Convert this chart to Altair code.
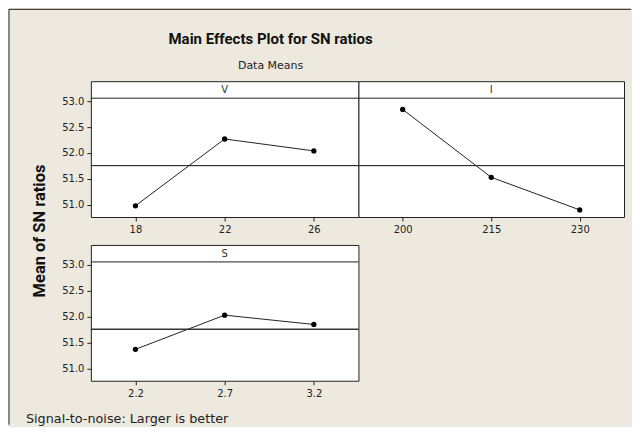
import altair as alt
import pandas as pd

# ---- data ----
v_levels = ["18", "22", "26"]
v_sn = [50.98, 52.27, 52.04]

i_levels = ["200", "215", "230"]
i_sn = [52.84, 51.53, 50.90]

s_levels = ["2.2", "2.7", "3.2"]
s_sn = [51.37, 52.03, 51.85]

y_ticks = [51.0, 51.5, 52.0, 52.5, 53.0]

title_text = "Main Effects Plot for SN ratios"
subtitle_text = "Data Means"
y_title_text = "Mean of SN ratios"
footer_text = "Signal-to-noise: Larger is better"

all_sn = v_sn + i_sn + s_sn
overall_mean = sum(all_sn) / len(all_sn)

# ---- styling ----
Y_DOMAIN = [50.763, 53.386]
FONT = "DejaVu Sans"
TITLE_FONT = "Roboto"
BG = "#EDE9DF"
INK = "#222222"
H = 136
STRIP = 17
TICK_FS = 10


def one(val):
    return pd.DataFrame({"t": [val]})


def panel(name, levels, values, width, show_y, extras=()):
    df = pd.DataFrame({"level": levels, "sn": values, "m": [overall_mean] * len(levels)})
    x = alt.X(
        "level:O",
        sort=levels,
        scale=alt.Scale(type="point", padding=0.5),
        axis=alt.Axis(
            title=None, labelAngle=0, domain=False, ticks=True, tickSize=4,
            tickColor=INK, labelColor=INK, labelFontSize=TICK_FS, labelFont=FONT,
            labelPadding=4, grid=False,
        ),
    )
    if show_y:
        yaxis = alt.Axis(
            title=None, values=y_ticks, format=".1f", domain=False, tickSize=4,
            tickColor=INK, labelColor=INK, labelFontSize=TICK_FS, labelFont=FONT,
            labelPadding=3, grid=False,
        )
    else:
        yaxis = None
    yscale = alt.Scale(domain=Y_DOMAIN, nice=False, zero=False)
    y = alt.Y("sn:Q", scale=yscale, axis=yaxis)
    ym = alt.Y("m:Q", scale=yscale, axis=yaxis)

    base = alt.Chart(df)
    line = base.mark_line(color=INK, strokeWidth=1).encode(x=x, y=y)
    pts = base.mark_circle(color="black", size=28, opacity=1).encode(x=x, y=y)
    mean_rule = base.mark_rule(color="#333333", strokeWidth=1).encode(y=ym)
    strip_rule = alt.Chart(one(name)).mark_rule(color=INK, strokeWidth=1).encode(
        x=alt.value(0), x2=alt.value(width), y=alt.value(STRIP)
    )
    strip_text = alt.Chart(one(name)).mark_text(
        font=FONT, fontSize=10, color="#333333", baseline="middle", align="center"
    ).encode(x=alt.value(width / 2), y=alt.value(STRIP / 2 + 0.5), text="t:N")
    layers = [line, pts, mean_rule, strip_rule, strip_text] + list(extras)
    return alt.layer(*layers).properties(width=width, height=H)


# decorations attached to the first panel (pixel offsets relative to it)
title_mark = alt.Chart(one(title_text)).mark_text(
    font=TITLE_FONT, fontSize=15, fontWeight="bold", color="#111111", baseline="middle", align="center"
).encode(x=alt.value(180), y=alt.value(-42), text="t:N")
subtitle_mark = alt.Chart(one(subtitle_text)).mark_text(
    font=FONT, fontSize=11, color="#222222", baseline="middle", align="center"
).encode(x=alt.value(180), y=alt.value(-15), text="t:N")
ytitle_mark = alt.Chart(one(y_title_text)).mark_text(
    font=TITLE_FONT, fontSize=16.5, fontWeight="bold", color="#111111", baseline="middle",
    align="center", angle=270
).encode(x=alt.value(-51), y=alt.value(150), text="t:N")
frame_left = alt.Chart(one("f")).mark_rule(color=INK, strokeWidth=1).encode(
    x=alt.value(-82), y=alt.value(-72), y2=alt.value(344)
)
frame_top = alt.Chart(one("f")).mark_rule(color=INK, strokeWidth=1).encode(
    x=alt.value(-82), x2=alt.value(541), y=alt.value(-72)
)
footer_mark = alt.Chart(one(footer_text)).mark_text(
    font=FONT, fontSize=12.8, color="#222222", baseline="middle", align="left"
).encode(x=alt.value(-65), y=alt.value(174), text="t:N")

p_v = panel("V", v_levels, v_sn, 268, True,
            [title_mark, subtitle_mark, ytitle_mark, frame_left, frame_top])
p_i = panel("I", i_levels, i_sn, 266, False)
p_s = panel("S", s_levels, s_sn, 268, True, [footer_mark])

chart = (
    alt.concat(p_v, p_i, p_s, columns=2, spacing={"row": 28, "column": 0}, bounds="flush")
    .properties(padding=0, background=BG)
    .configure(font=FONT)
    .configure_view(stroke=INK, strokeWidth=1, fill="white")
)

chart.save("out.html", embed_options={"renderer": "svg", "actions": False})
